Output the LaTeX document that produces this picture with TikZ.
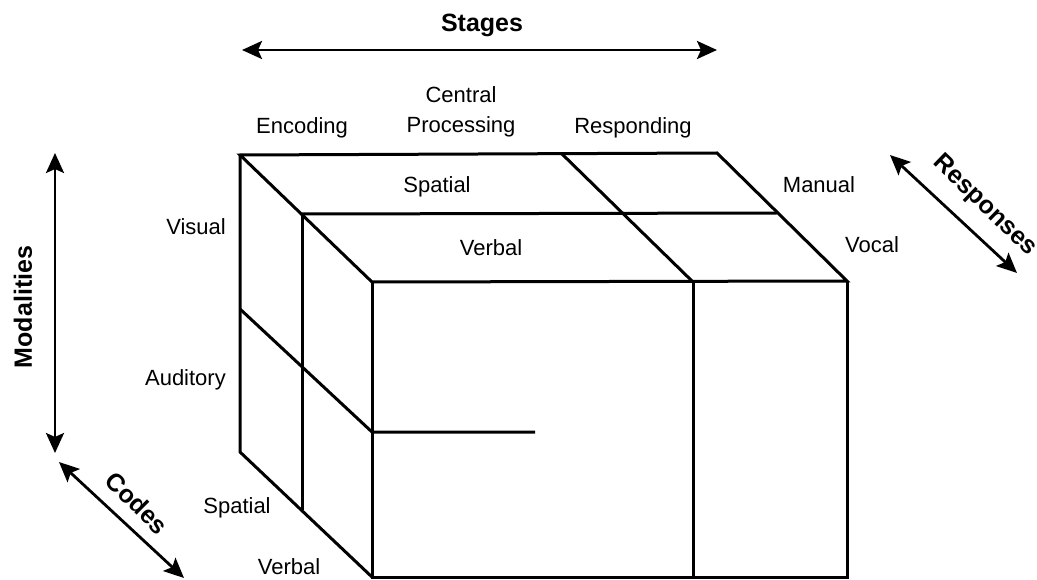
\documentclass[tikz,border=0pt]{standalone}
\usepackage{fontspec}
\setmainfont{Liberation Sans}
\usetikzlibrary{arrows.meta}
\begin{document}
\begin{tikzpicture}[x=1pt,y=-1pt,
  edge/.style={line width=3pt,line join=miter},
  axis/.style={line width=2.8pt,{Stealth[length=20pt,width=18pt,inset=4pt]}-{Stealth[length=20pt,width=18pt,inset=4pt]}},
  lab/.style={font=\fontsize{22}{30}\selectfont,inner sep=0pt},
  title/.style={font=\fontsize{25}{27}\selectfont\bfseries,inner sep=0pt}]
\useasboundingbox (0,0) rectangle (1037,580);
% cube corners
\coordinate (A) at (240,155);
\coordinate (B) at (717,153);
\coordinate (C) at (847,281);
\coordinate (D) at (372,282);
\coordinate (M1) at (302,214);
\coordinate (M2) at (777,213);
\coordinate (P1) at (562,154);
\coordinate (P2) at (693,282);
\coordinate (E) at (372,577);
\coordinate (F) at (847,577);
\coordinate (G) at (693,577);
\coordinate (L1) at (240,452);
\coordinate (V1) at (302,510);
\coordinate (Au1) at (240,309);
\coordinate (Au2) at (372,432);
\coordinate (H) at (535,432);
% cube
\draw[edge] (A) -- (B) -- (C) -- (D) -- cycle;
\draw[edge] (M1) -- (M2);
\draw[edge] (P1) -- (P2);
\draw[edge] (D) -- (E) -- (F) -- (C);
\draw[edge] (P2) -- (G);
\draw[edge] (A) -- (L1) -- (E);
\draw[edge] (M1) -- (V1);
\draw[edge] (Au1) -- (Au2) -- (H);
% axes
\coordinate (S1) at (242,50);
\coordinate (S2) at (717,50);
\coordinate (Mo1) at (55,153);
\coordinate (Mo2) at (55,453);
\coordinate (Co1) at (59,462);
\coordinate (Co2) at (184,578);
\coordinate (R1) at (890,155);
\coordinate (R2) at (1017,273);
\draw[axis] (S1) -- (S2);
\draw[axis] (Mo1) -- (Mo2);
\draw[axis] (Co1) -- (Co2);
\draw[axis] (R1) -- (R2);
% titles
\node[title] (stages) at (482,25) {Stages};
\node[title,rotate=90] (modal) at (23,307) {Modalities};
\node[title,rotate=-45] (codes) at (137,503) {Codes};
\node[title,rotate=-44] (resp) at (985,206) {Responses};
% stage labels
\node[lab] (enc) at (302,128) {Encoding};
\node[lab,align=center] (cen) at (461,112) {Central\\Processing};
\node[lab] (rsp) at (633,128) {Responding};
% top face
\node[lab] (tsp) at (437,187) {Spatial};
\node[lab] (tvb) at (491,248) {Verbal};
\node[lab] (man) at (819,185) {Manual};
\node[lab] (voc) at (872,245) {Vocal};
% left side
\node[lab,anchor=east] (vis) at (226,227) {Visual};
\node[lab,anchor=east] (aud) at (226,380) {Auditory};
\node[lab] (lsp) at (237,508) {Spatial};
\node[lab] (lvb) at (289,567) {Verbal};
\end{tikzpicture}
\end{document}
